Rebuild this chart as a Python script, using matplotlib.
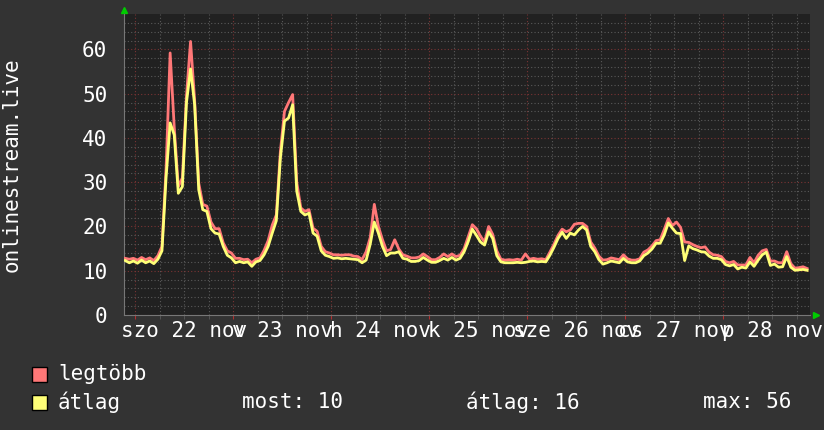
import numpy as np
import matplotlib.pyplot as plt
from matplotlib.transforms import blended_transform_factory

# hourly samples, hours counted from 22 nov 00:00 (first sample at 21 nov 21:30)
start_hour = -2.5

avg_users = [
    12.3, 11.8, 12.2, 11.7, 12.4, 11.8, 12.2, 11.6, 12.6, 14.5, 31.0, 43.4,
    40.7, 27.5, 29.0, 48.0, 55.6, 47.5, 28.3, 23.8, 23.4, 19.5, 18.5, 18.3,
    15.5, 13.5, 12.9, 11.8, 12.1, 11.8, 12.0, 11.0, 12.0, 12.3, 13.6, 15.5,
    18.5, 21.3, 35.5, 43.8, 44.5, 47.5, 28.0, 23.4, 22.6, 23.0, 18.5, 17.8,
    14.5, 13.5, 13.2, 12.8, 12.9, 12.7, 12.8, 12.7, 12.6, 12.5, 11.8, 12.4,
    16.0, 21.0, 18.5, 15.5, 13.4, 14.0, 14.0, 14.3, 12.8, 12.6, 12.1, 12.1,
    12.3, 13.0, 12.4, 11.9, 11.9, 12.3, 12.8, 12.4, 13.0, 12.4, 12.8, 14.3,
    16.6, 19.4, 18.0, 16.5, 15.8, 18.8, 17.3, 13.4, 12.0, 11.8, 11.8, 11.8,
    11.9, 11.8, 11.9, 12.1, 12.2, 12.0, 12.1, 12.0, 13.5, 15.3, 17.3, 18.7,
    17.3, 18.5, 18.1, 19.2, 20.0, 19.2, 15.5, 14.3, 12.5, 11.5, 11.8, 12.2,
    12.0, 11.8, 12.8, 12.0, 11.8, 11.8, 12.2, 13.4, 14.0, 14.9, 16.2, 16.2,
    18.1, 20.8, 19.6, 18.5, 18.4, 12.3, 15.6, 15.0, 14.7, 14.3, 14.2, 13.3,
    12.8, 12.8, 12.5, 11.4, 11.1, 11.4, 10.4, 10.8, 10.6, 12.0, 11.0, 12.4,
    13.6, 14.2, 11.2, 11.5, 10.8, 10.9, 13.2, 10.8, 10.1, 10.2, 10.3, 10.1,
]

max_users = [
    12.8, 12.6, 12.8, 12.4, 13.0, 12.5, 12.9, 12.3, 13.4, 15.5, 33.0, 59.2,
    42.5, 29.0, 31.0, 49.5, 61.8, 48.5, 29.8, 25.0, 24.6, 21.0, 19.5, 19.5,
    16.3, 14.5, 14.0, 12.8, 12.8, 12.5, 12.6, 11.8, 12.6, 12.9, 14.6, 16.8,
    20.3, 22.6, 37.0, 46.0, 48.0, 49.8, 30.0, 24.2, 23.4, 23.8, 19.6, 18.9,
    15.5, 14.3, 14.0, 13.6, 13.6, 13.5, 13.6, 13.6, 13.3, 13.2, 12.5, 14.3,
    17.5, 25.0, 20.0, 17.0, 14.5, 14.8, 17.0, 14.9, 13.6, 13.3, 12.9, 12.9,
    13.1, 13.8, 13.2, 12.5, 12.5, 13.0, 13.8, 13.2, 13.8, 13.2, 13.5, 15.0,
    17.7, 20.4, 19.5, 17.8, 16.5, 20.0, 18.2, 14.5, 12.6, 12.4, 12.5, 12.4,
    12.6, 12.4, 13.8, 12.6, 12.8, 12.6, 12.7, 12.5, 14.2, 16.0, 18.0, 19.4,
    18.8, 19.2, 20.5, 20.7, 20.7, 20.0, 16.5, 15.1, 13.3, 12.4, 12.5, 12.9,
    12.7, 12.5, 13.6, 12.7, 12.4, 12.4, 12.7, 14.2, 14.7, 15.6, 16.8, 17.0,
    19.3, 21.8, 20.2, 21.0, 19.8, 16.5, 16.4, 15.9, 15.5, 15.2, 15.4, 14.2,
    13.6, 13.5, 13.2, 12.1, 11.8, 12.1, 11.3, 11.3, 11.3, 13.0, 11.8, 13.5,
    14.5, 14.8, 12.2, 12.2, 11.8, 11.8, 14.3, 11.6, 10.6, 10.7, 10.9, 10.5,
]

day_labels = ["szo 22 nov", "v 23 nov", "h 24 nov", "k 25 nov",
              "sze 26 nov", "cs 27 nov", "p 28 nov"]
stat_now = 10
stat_avg = 16
stat_max = 56

BG = "#333333"
PLOT_BG = "#212121"
RED = "#ff7777"
YELLOW = "#ffff77"
MINOR_GRID = "#5a5a5a"
MAJOR_GRID = "#7a3434"
FONT = "DejaVu Sans Mono"
FS = 15

hours = start_hour + np.arange(len(avg_users))

fig = plt.figure(figsize=(8.24, 4.30), dpi=100, facecolor=BG)
ax = fig.add_axes([124 / 824, 115 / 430, 686 / 824, 301 / 430], facecolor=PLOT_BG)

ax.plot(hours, max_users, color=RED, lw=2.0, zorder=3)
ax.plot(hours, avg_users, color=YELLOW, lw=2.0, zorder=4)

ax.set_xlim(-2.8, 165.2)
ax.set_ylim(0, 68)

# grid: 6h minor, midnight major; 2 minor, 10 major
ax.set_xticks(np.arange(0, 166, 24))
ax.set_xticks(np.arange(0, 166, 6), minor=True)
ax.set_yticks(np.arange(0, 61, 10))
ax.set_yticks(np.arange(0, 68, 2), minor=True)
ax.grid(which="minor", color=MINOR_GRID, linestyle=(0, (1, 2)), lw=0.8)
ax.grid(which="major", color=MAJOR_GRID, linestyle=(0, (1, 2)), lw=0.8)
ax.set_axisbelow(True)

ax.set_xticklabels([])
ax.tick_params(axis="x", which="both", length=3, direction="out", color=MINOR_GRID)
ax.tick_params(axis="x", which="major", color="#b03030")
ax.tick_params(axis="y", which="both", length=0, pad=12, labelsize=FS,
               labelcolor="white")
for lab in ax.get_yticklabels():
    lab.set_family(FONT)

for side in ["top", "right"]:
    ax.spines[side].set_visible(False)
ax.spines["left"].set_color("#777777")
ax.spines["bottom"].set_color("#777777")
ax.spines["left"].set_linewidth(0.8)
ax.spines["bottom"].set_linewidth(0.8)

# day labels centered on noon
trans = blended_transform_factory(ax.transData, ax.transAxes)
for i, lab in enumerate(day_labels):
    ax.text(12 + 24 * i, -16 / 301, lab, transform=trans, ha="center",
            va="center", color="white", fontsize=FS, family=FONT, clip_on=False)

# green arrows at axis ends
ax.plot([0], [1.0 + 4 / 301], marker="^", color="#00cc00", ms=5,
        transform=ax.transAxes, clip_on=False)
ax.plot([1.0 + 6 / 686], [0], marker=">", color="#00cc00", ms=5,
        transform=ax.transAxes, clip_on=False)

fig.text(12 / 824, 1 - 165 / 430, "onlinestream.live", rotation=90,
         ha="center", va="center", color="white", fontsize=FS, family=FONT)

# legend
for row_y, col, name in [(374, RED, "legtöbb"), (402, YELLOW, "átlag")]:
    fig.patches.append(plt.Rectangle((32 / 824, 1 - (row_y + 7.5) / 430),
                                     15 / 824, 15 / 430, transform=fig.transFigure,
                                     facecolor=col, edgecolor="black", lw=1))
    fig.text(58 / 824, 1 - row_y / 430, name, ha="left", va="center",
             color="white", fontsize=FS, family=FONT)

fig.text(242 / 824, 1 - 402 / 430, f"most: {stat_now}", ha="left", va="center",
         color="white", fontsize=FS, family=FONT)
fig.text(466 / 824, 1 - 402 / 430, f"átlag: {stat_avg}", ha="left", va="center",
         color="white", fontsize=FS, family=FONT)
fig.text(703 / 824, 1 - 402 / 430, f"max: {stat_max}", ha="left", va="center",
         color="white", fontsize=FS, family=FONT)

fig.savefig("out.png", dpi=100, facecolor=BG)
